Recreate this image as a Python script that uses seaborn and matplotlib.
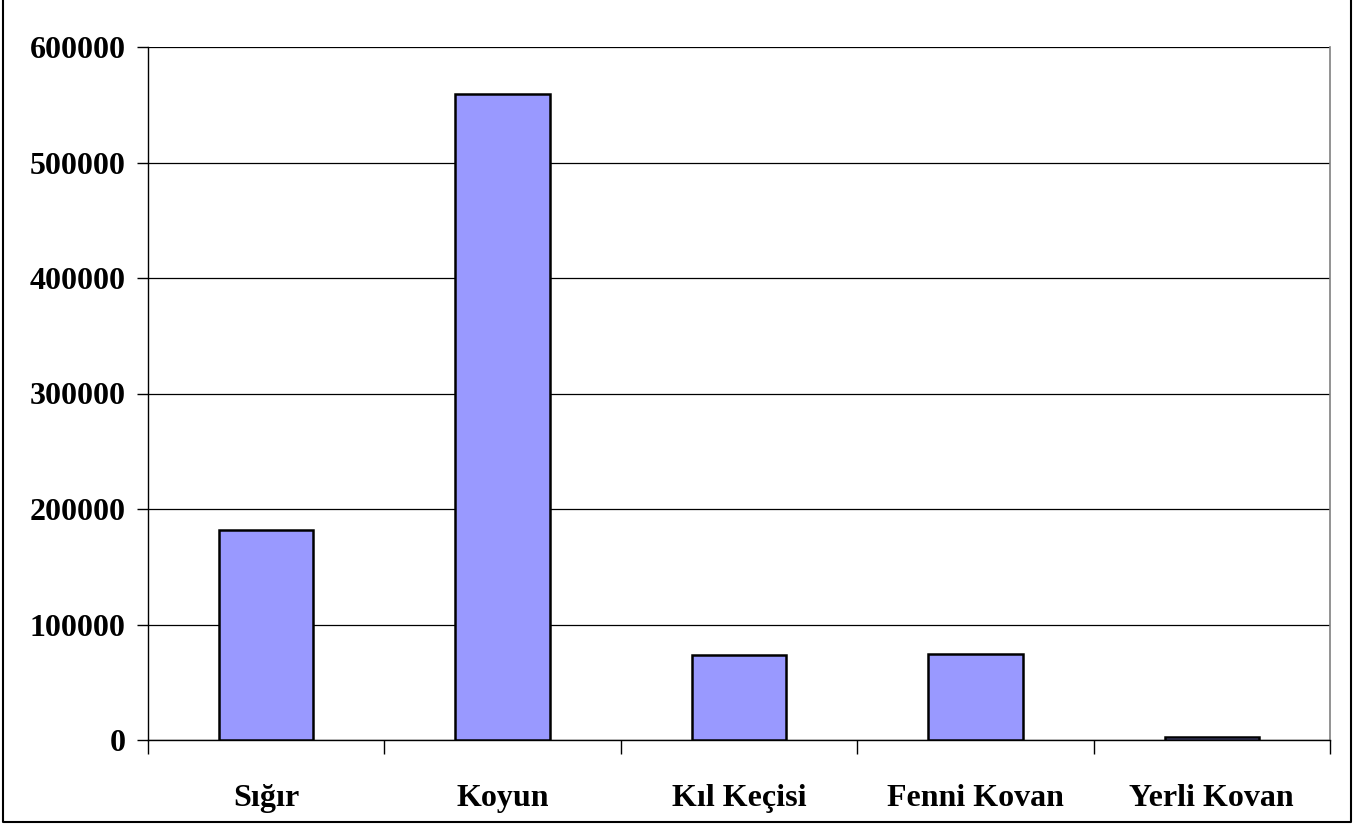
import matplotlib
matplotlib.use("Agg")
import matplotlib.pyplot as plt
import seaborn as sns
import pandas as pd
from matplotlib.lines import Line2D

categories = ["Sığır", "Koyun", "Kıl Keçisi", "Fenni Kovan", "Yerli Kovan"]
values = [182000, 559000, 74000, 74500, 3000]
yticks = [0, 100000, 200000, 300000, 400000, 500000, 600000]

df = pd.DataFrame({"kategori": categories, "sayi": values})

sns.set_style("white")
plt.rcParams["font.family"] = ["Liberation Serif", "DejaVu Serif"]
plt.rcParams["font.weight"] = "bold"
plt.rcParams["text.color"] = "black"
plt.rcParams["xtick.color"] = "black"
plt.rcParams["ytick.color"] = "black"

fig = plt.figure(figsize=(13.67, 8.25), dpi=100)
ax = fig.add_axes([148 / 1367, 1 - 740 / 825, (1330 - 148) / 1367, (740 - 47) / 825])

sns.barplot(data=df, x="kategori", y="sayi", color="#9999FF", saturation=1,
            width=0.4, edgecolor="black", linewidth=1.8, ax=ax, zorder=3)

ax.set_xlim(-0.5, len(categories) - 0.5)
ax.set_ylim(0, 600000)
ax.set_yticks(yticks)
ax.set_yticklabels([str(v) for v in yticks], fontsize=23, fontweight="bold", color="black")
ax.tick_params(axis="y", length=8, width=1, color="black", pad=8, left=True)
ax.set_xticks(range(len(categories)))
ax.set_xticklabels(categories, fontsize=23, fontweight="bold", color="black")
ax.tick_params(axis="x", which="major", length=0, pad=32)
ax.set_xticks([i - 0.5 for i in range(len(categories) + 1)], minor=True)
ax.tick_params(axis="x", which="minor", length=10, width=1, color="black", bottom=True)

ax.yaxis.grid(True, color="black", linewidth=0.9)
ax.set_axisbelow(True)
ax.set_xlabel("")
ax.set_ylabel("")

for s in ["left", "bottom"]:
    ax.spines[s].set_color("black")
    ax.spines[s].set_linewidth(1)
ax.spines["right"].set_color("#808080")
ax.spines["right"].set_linewidth(1.2)
ax.spines["top"].set_visible(False)

# outer frame: left, right and bottom only
x0, x1, y0 = 3 / 1367, 1351 / 1367, 1 - 822 / 825
fig.add_artist(Line2D([x0, x0, x1, x1], [1, y0, y0, 1], transform=fig.transFigure,
                      color="black", linewidth=1.5))

fig.savefig("out.png", dpi=100)
